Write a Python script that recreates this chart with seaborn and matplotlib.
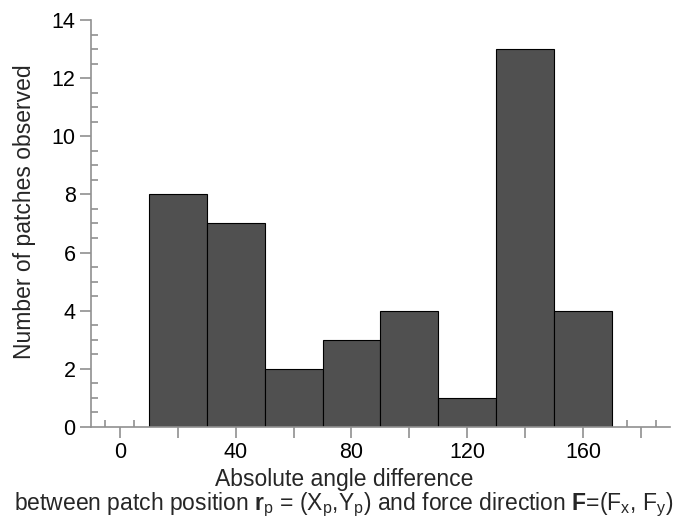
import numpy as np
import matplotlib
matplotlib.use("Agg")
import matplotlib.pyplot as plt
import seaborn as sns
from matplotlib.ticker import MultipleLocator, FixedLocator

sns.set_style("white")
plt.rcParams['font.family'] = ['Liberation Sans', 'DejaVu Sans']
plt.rcParams['mathtext.fontset'] = 'custom'
plt.rcParams['mathtext.rm'] = 'Liberation Sans'
plt.rcParams['mathtext.bf'] = 'Liberation Sans:bold'

# histogram of absolute angle differences (bin centres and counts)
bin_edges = [10, 30, 50, 70, 90, 110, 130, 150, 170]
bin_centers = [20, 40, 60, 80, 100, 120, 140, 160]
counts = [8, 7, 2, 3, 4, 1, 13, 4]

fig = plt.figure(figsize=(6.83, 5.27), dpi=100)
ax = fig.add_axes([0.133, 0.19, 0.848, 0.772])

sns.histplot(x=bin_centers, weights=counts, bins=bin_edges, ax=ax,
             color='#505050', edgecolor='black', linewidth=0.8, alpha=1)

ax.set_xlim(-10, 190)
ax.set_ylim(0, 14)

sns.despine(ax=ax)
for s in ['left', 'bottom']:
    ax.spines[s].set_color('#909090')
    ax.spines[s].set_linewidth(1.2)

ax.xaxis.set_major_locator(FixedLocator(list(range(0, 181, 20))))
ax.set_xticklabels(['0', '', '40', '', '80', '', '120', '', '160', ''])
ax.xaxis.set_minor_locator(FixedLocator(list(range(-5, 190, 10))))
ax.yaxis.set_major_locator(MultipleLocator(2))
ax.yaxis.set_minor_locator(MultipleLocator(0.5))

ax.tick_params(which='major', direction='out', length=8, width=1.2,
               color='#909090', labelsize=15.5, pad=3, labelcolor='black')
ax.tick_params(which='minor', direction='in', length=5, width=1.2,
               color='#909090')
ax.tick_params(axis='x', which='both', bottom=True)
ax.tick_params(axis='y', which='both', left=True)

ax.set_ylabel('Number of patches observed', fontsize=16.5)
ax.yaxis.set_label_coords(-0.095, 0.528)

ax.set_xlabel('Absolute angle difference\n'
              r'between patch position $\mathbf{r}_\mathrm{p}$ = (X$_\mathrm{p}$,Y$_\mathrm{p}$) '
              r'and force direction $\mathbf{F}$=(F$_\mathrm{x}$, F$_\mathrm{y}$)',
              fontsize=16.5, linespacing=1.0)
ax.xaxis.set_label_coords(0.437, -0.1)
ax.xaxis.label.set_va('top')

fig.savefig('out.png', dpi=100)
